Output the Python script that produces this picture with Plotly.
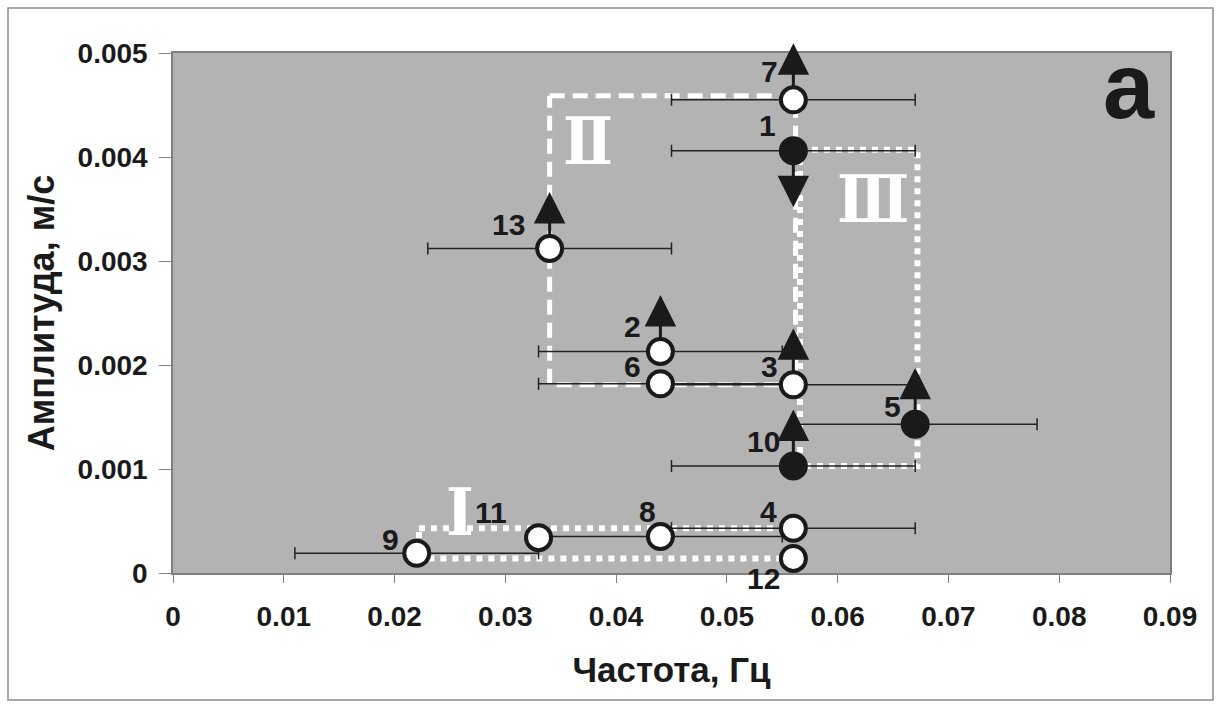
import plotly.graph_objects as go

# ---------------- data ----------------
point_ids   = ["1", "2", "3", "4", "5", "6", "7", "8", "9", "10", "11", "12", "13"]
freq        = [0.056, 0.044, 0.056, 0.056, 0.067, 0.044, 0.056, 0.044, 0.022, 0.056, 0.033, 0.056, 0.034]
amplitude   = [0.00406, 0.00213, 0.00181, 0.00043, 0.00143, 0.00182, 0.00455, 0.00035, 0.00019, 0.00103, 0.00034, 0.00014, 0.00312]
freq_err    = [0.011, 0.011, 0.011, 0.011, 0.011, 0.011, 0.011, 0.011, 0.011, 0.011, 0.0, 0.0, 0.011]
filled      = [True, False, False, False, True, False, False, False, False, True, False, False, False]
# arrow direction: +1 up, -1 down, 0 none
arrow_dir   = [-1, 1, 1, 0, 1, 0, 1, 0, 0, 1, 0, 0, 1]

# region boxes (x0, x1, y0, y1)
region_names = ["Ⅰ", "Ⅱ", "Ⅲ"]
region_x0    = [0.0222, 0.0340, 0.0566]
region_x1    = [0.0562, 0.0562, 0.0672]
region_y0    = [0.00014, 0.00181, 0.00103]
region_y1    = [0.00043, 0.00459, 0.00407]
region_lbl_x = [0.0259, 0.0375, 0.0632]
region_lbl_y = [0.00059, 0.00415, 0.00360]

x_ticks = [0, 0.01, 0.02, 0.03, 0.04, 0.05, 0.06, 0.07, 0.08, 0.09]
x_tick_labels = ["0", "0.01", "0.02", "0.03", "0.04", "0.05", "0.06", "0.07", "0.08", "0.09"]
y_ticks = [0, 0.001, 0.002, 0.003, 0.004, 0.005]
y_tick_labels = ["0", "0.001", "0.002", "0.003", "0.004", "0.005"]

x_title = "Частота, Гц"
y_title = "Амплитуда, м/с"
panel_letter = "а"

# ---------------- styles ----------------
DARK = "#1a1a1a"
BG = "#b3b3b3"
FONT = "Liberation Sans, Arial, sans-serif"
label_offsets = {  # (xshift, yshift) in px for the point numbers
    "1": (-26, 25), "2": (-28, 25), "3": (-24, 18), "4": (-25, 17), "5": (-23, 18),
    "6": (-28, 17), "7": (-24, 28), "8": (-13, 25), "9": (-26, 14), "10": (-30, 24),
    "11": (-48, 25), "12": (-30, -20), "13": (-41, 24),
}
region_dash = ["6px,6px", "15px,8px", "6px,6px"]
region_width = [6, 5, 6]
ARROW_PX = 58

W, H = 1221, 708
ML, MR, MT, MB = 173, 51, 53, 135
PW, PH = W - ML - MR, H - MT - MB

fig = go.Figure()

# region boxes
for i, nm in enumerate(region_names):
    xs = [region_x0[i], region_x1[i], region_x1[i], region_x0[i], region_x0[i]]
    ys = [region_y1[i], region_y1[i], region_y0[i], region_y0[i], region_y1[i]]
    fig.add_trace(go.Scatter(x=xs, y=ys, mode="lines", hoverinfo="skip",
                             line=dict(color="white", width=region_width[i], dash=region_dash[i]),
                             showlegend=False))

# points with horizontal error bars
for is_filled in (False, True):
    idx = [i for i in range(len(freq)) if filled[i] == is_filled]
    fig.add_trace(go.Scatter(
        x=[freq[i] for i in idx], y=[amplitude[i] for i in idx], mode="markers",
        error_x=dict(type="data", array=[freq_err[i] for i in idx], symmetric=True,
                     color="#222222", thickness=1.5, width=6),
        marker=dict(size=25, color=DARK if is_filled else "white",
                    line=dict(color=DARK, width=4)),
        showlegend=False, cliponaxis=False))

ann = []
# arrows
for i in range(len(freq)):
    if arrow_dir[i] == 0:
        continue
    ann.append(dict(x=freq[i], y=amplitude[i], xref="x", yref="y", text="",
                    showarrow=True, ax=0, ay=-ARROW_PX * arrow_dir[i],
                    arrowside="start", arrowhead=2, startarrowhead=2,
                    arrowwidth=3, startarrowsize=2.1, arrowsize=2.1,
                    arrowcolor=DARK, standoff=13))
# point labels
for i, pid in enumerate(point_ids):
    dx, dy = label_offsets[pid]
    ann.append(dict(x=freq[i], y=amplitude[i], xref="x", yref="y", text=pid,
                    showarrow=False, xshift=dx, yshift=dy,
                    font=dict(family=FONT, size=30, color=DARK, weight="bold")))
# region labels
for i, nm in enumerate(region_names):
    ann.append(dict(x=region_lbl_x[i], y=region_lbl_y[i], xref="x", yref="y", text=nm,
                    showarrow=False,
                    font=dict(family="DejaVu Serif Condensed, DejaVu Serif", size=66,
                              color="white", weight="bold")))
# panel letter
ann.append(dict(x=0.0863, y=0.00468, xref="x", yref="y", text=panel_letter, showarrow=False,
                font=dict(family=FONT, size=92, color=DARK, weight="bold")))

# outer frame
fig.add_shape(type="rect", xref="paper", yref="paper",
              x0=(8 - ML) / PW, x1=(1213 - ML) / PW,
              y0=(MT + PH - 700) / PH, y1=(MT + PH - 8) / PH,
              line=dict(color="#8c8c8c", width=1.5), layer="below")

fig.update_layout(
    width=W, height=H, margin=dict(l=ML, r=MR, t=MT, b=MB),
    paper_bgcolor="white", plot_bgcolor=BG, annotations=ann,
    xaxis=dict(range=[0, 0.09], tickvals=x_ticks, ticktext=x_tick_labels,
               ticks="outside", ticklen=8, tickcolor="#808080", tickwidth=1,
               ticklabelstandoff=10,
               showline=True, linecolor="#808080", linewidth=1.5, mirror=True,
               showgrid=False, zeroline=False,
               tickfont=dict(family=FONT, size=28, color=DARK, weight="bold"),
               title=dict(text=x_title, standoff=26,
                          font=dict(family=FONT, size=35, color=DARK, weight="bold"))),
    yaxis=dict(range=[0, 0.005], tickvals=y_ticks, ticktext=y_tick_labels,
               ticks="outside", ticklen=12, tickcolor="#808080", tickwidth=1,
               ticklabelstandoff=6,
               showline=True, linecolor="#808080", linewidth=1.5, mirror=True,
               showgrid=False, zeroline=False,
               tickfont=dict(family=FONT, size=28, color=DARK, weight="bold"),
               title=dict(text=y_title, standoff=12,
                          font=dict(family=FONT, size=36, color=DARK, weight="bold"))),
)

fig.write_html("out.html")
